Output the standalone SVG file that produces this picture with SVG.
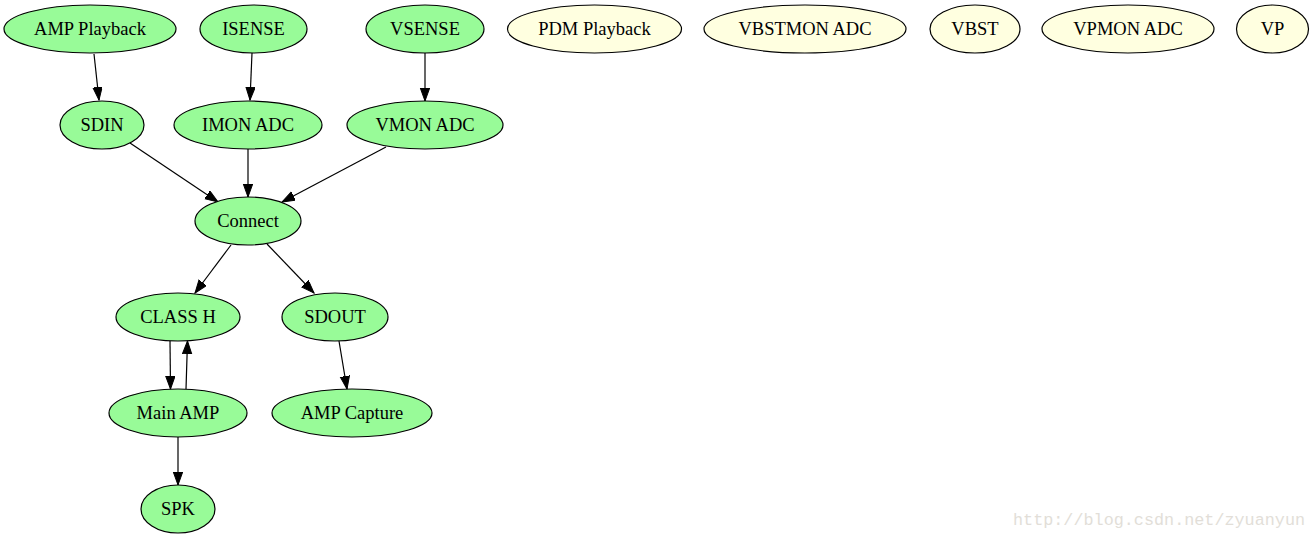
<svg xmlns="http://www.w3.org/2000/svg" width="1315" height="539" viewBox="0 0 1315 539">
<style>
.g ellipse{fill:#98fb98;stroke:#000;stroke-width:1.2}
.y ellipse{fill:#ffffe0;stroke:#000;stroke-width:1.2}
text{font-family:"Liberation Serif","Times New Roman",serif;font-size:18.5px;text-anchor:middle;fill:#000}
#edges line{stroke:#000;stroke-width:1.2;marker-end:url(#arr)}
.wm{font-family:"Liberation Mono","DejaVu Sans Mono",monospace;font-size:16.8px;fill:#e2ded8;text-anchor:start}
</style>
<defs>
<marker id="arr" markerUnits="userSpaceOnUse" markerWidth="15" markerHeight="11" refX="13" refY="4.7" orient="auto">
<polygon points="0,0 13,4.7 0,9.4" fill="#000" stroke="#000" stroke-width="1"/>
</marker>
</defs>
<rect width="1315" height="539" fill="#fff"/>
<g id="edges">
<line x1="94" y1="54" x2="99" y2="100"/>
<line x1="252" y1="53" x2="250" y2="100"/>
<line x1="425" y1="53" x2="425" y2="101"/>
<line x1="130" y1="143" x2="218" y2="202"/>
<line x1="248" y1="149" x2="248" y2="197"/>
<line x1="386" y1="147" x2="282" y2="202"/>
<line x1="231" y1="245" x2="195" y2="293"/>
<line x1="267" y1="244" x2="314" y2="293"/>
<line x1="170" y1="341" x2="170.5" y2="389"/>
<line x1="186" y1="389" x2="187.5" y2="341"/>
<line x1="339" y1="341" x2="347" y2="389"/>
<line x1="178" y1="437" x2="178" y2="485"/>
</g>
<g id="amp_playback" class="g"><ellipse cx="90" cy="29" rx="86" ry="24"/><text x="90" y="35">AMP Playback</text></g>
<g id="isense" class="g"><ellipse cx="253.5" cy="29" rx="53.5" ry="24"/><text x="253.5" y="35">ISENSE</text></g>
<g id="vsense" class="g"><ellipse cx="425" cy="29" rx="59" ry="24"/><text x="425" y="35">VSENSE</text></g>
<g id="pdm_playback" class="y"><ellipse cx="594.5" cy="29" rx="87" ry="24"/><text x="594.5" y="35">PDM Playback</text></g>
<g id="vbstmon_adc" class="y"><ellipse cx="805" cy="29" rx="101" ry="24"/><text x="805" y="35">VBSTMON ADC</text></g>
<g id="vbst" class="y"><ellipse cx="975" cy="29" rx="45" ry="24"/><text x="975" y="35">VBST</text></g>
<g id="vpmon_adc" class="y"><ellipse cx="1128" cy="29" rx="86" ry="24"/><text x="1128" y="35">VPMON ADC</text></g>
<g id="vp" class="y"><ellipse cx="1272.5" cy="29" rx="36" ry="24"/><text x="1272.5" y="35">VP</text></g>
<g id="sdin" class="g"><ellipse cx="102" cy="125" rx="42" ry="24"/><text x="102" y="131">SDIN</text></g>
<g id="imon_adc" class="g"><ellipse cx="248" cy="125" rx="74" ry="24"/><text x="248" y="131">IMON ADC</text></g>
<g id="vmon_adc" class="g"><ellipse cx="425" cy="125" rx="78" ry="24"/><text x="425" y="131">VMON ADC</text></g>
<g id="connect" class="g"><ellipse cx="248" cy="221" rx="53" ry="24"/><text x="248" y="227">Connect</text></g>
<g id="class_h" class="g"><ellipse cx="178" cy="317" rx="62" ry="24"/><text x="178" y="323">CLASS H</text></g>
<g id="sdout" class="g"><ellipse cx="335" cy="317" rx="53" ry="24"/><text x="335" y="323">SDOUT</text></g>
<g id="main_amp" class="g"><ellipse cx="178" cy="413" rx="69" ry="24"/><text x="178" y="419">Main AMP</text></g>
<g id="amp_capture" class="g"><ellipse cx="352" cy="413" rx="80" ry="24"/><text x="352" y="419">AMP Capture</text></g>
<g id="spk" class="g"><ellipse cx="178" cy="509" rx="37" ry="24"/><text x="178" y="515">SPK</text></g>
<text class="wm" x="1013" y="525">http://blog.csdn.net/zyuanyun</text>
</svg>
